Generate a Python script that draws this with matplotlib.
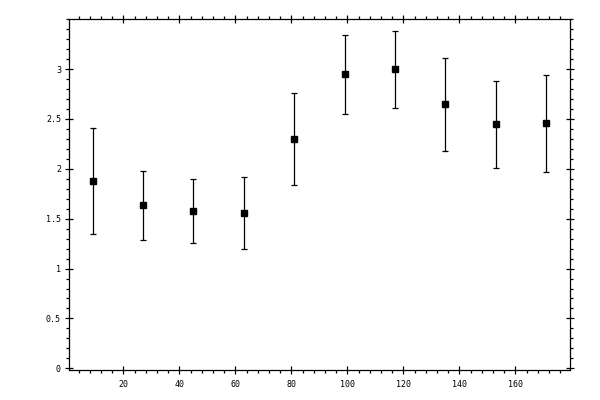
import numpy as np
import matplotlib
matplotlib.use("Agg")
import matplotlib.pyplot as plt
from matplotlib.ticker import MultipleLocator

# values
x = [9, 27, 45, 63, 81, 99, 117, 135, 153, 171]
y = [1.874, 1.634, 1.574, 1.554, 2.295, 2.947, 2.997, 2.646, 2.446, 2.456]
err = [0.531, 0.344, 0.32, 0.36, 0.461, 0.40, 0.39, 0.465, 0.44, 0.485]

fig = plt.figure(figsize=(6, 4), dpi=100)
ax = fig.add_axes([0.1155, 0.0743, 0.835, 0.8775])

ax.errorbar(x, y, yerr=err, fmt="s", color="black", ms=5, elinewidth=0.9,
            capsize=2.2, capthick=0.9)

ax.set_xlim(0.7, 179.6)
ax.set_ylim(-0.02, 3.5)
ax.xaxis.set_major_locator(MultipleLocator(20))
ax.xaxis.set_minor_locator(MultipleLocator(4))
ax.yaxis.set_major_locator(MultipleLocator(0.5))
ax.yaxis.set_minor_locator(MultipleLocator(0.1))
ax.set_xticks([20, 40, 60, 80, 100, 120, 140, 160])
ax.set_yticks([0, 0.5, 1, 1.5, 2, 2.5, 3])
ax.set_yticklabels(["0", "0.5", "1", "1.5", "2", "2.5", "3"])

for s in ax.spines.values():
    s.set_linewidth(0.9)

ax.tick_params(which="both", top=True, right=True, width=0.9,
               labelsize=6, labelfontfamily="DejaVu Sans Mono")
ax.tick_params(which="major", direction="inout", length=6, pad=3)
ax.tick_params(which="minor", direction="out", length=2.2)
ax.tick_params(axis="x", which="major", pad=4)

fig.savefig("out.png", dpi=100)
